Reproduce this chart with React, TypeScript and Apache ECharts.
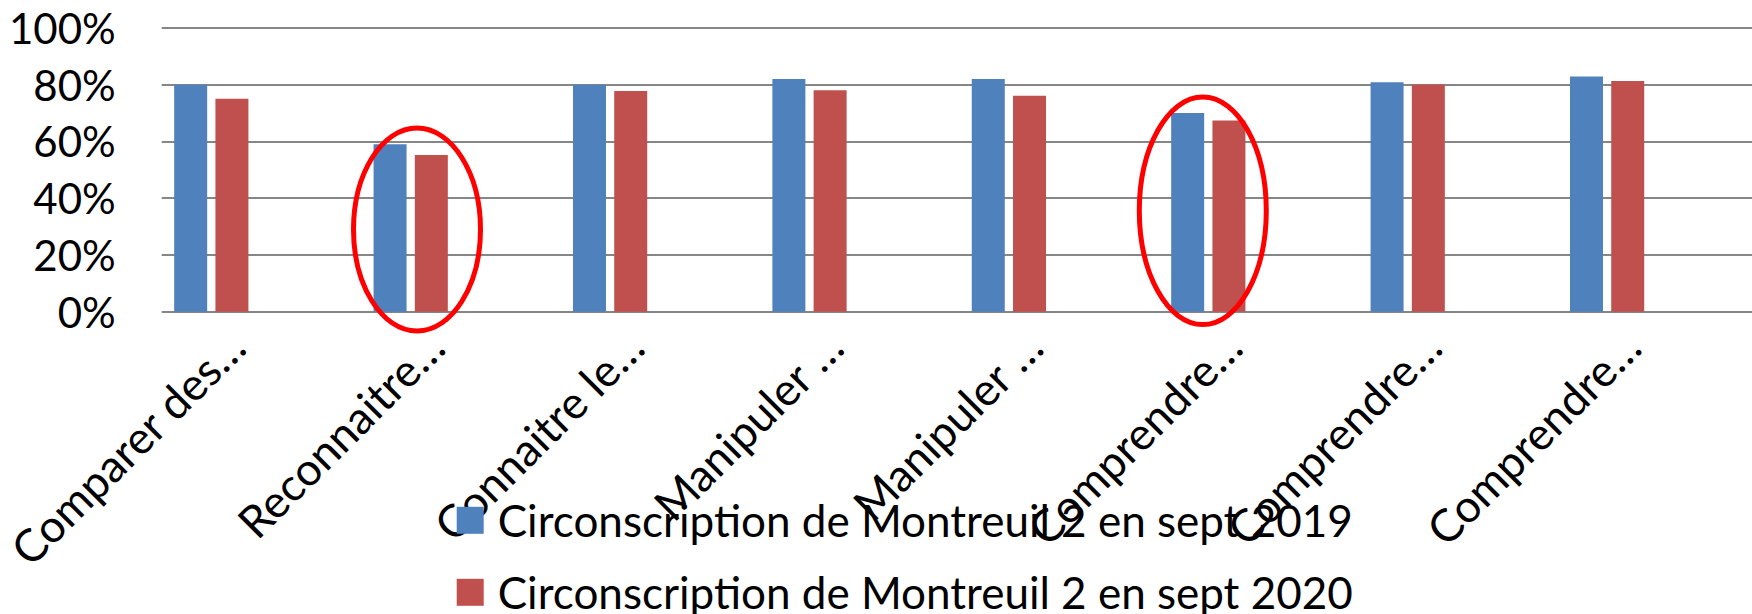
import React, { useEffect, useRef } from "react";
import * as echarts from "echarts";

const categories = [
  "Comparer des…",
  "Reconnaitre…",
  "Connaitre le…",
  "Manipuler …",
  "Manipuler …",
  "Comprendre…",
  "Comprendre…",
  "Comprendre…",
];
const seriesNames = [
  "Circonscription de Montreuil 2 en sept 2019",
  "Circonscription de Montreuil 2 en sept 2020",
];
const values2019 = [0.8, 0.59, 0.8, 0.82, 0.82, 0.7, 0.809, 0.829];
const values2020 = [0.751, 0.552, 0.778, 0.781, 0.761, 0.674, 0.801, 0.813];
const yMin = 0;
const yMax = 1;
const yStep = 0.2;

const FONT = "Lato";

export default function App() {
  const ref = useRef<HTMLDivElement>(null);
  useEffect(() => {
    if (!ref.current) return;
    const chart = echarts.init(ref.current, undefined, { renderer: "svg" });
    const top = 28;
    const height = 283.7;
    const band = 199.4;
    const hiddenValueAxis = (gi: number) => ({
      type: "value",
      gridIndex: gi,
      min: yMin,
      max: yMax,
      interval: yStep,
      show: false,
      splitLine: { show: false },
    });
    const hiddenCatAxis = (gi: number) => ({
      type: "category",
      gridIndex: gi,
      data: categories,
      axisLine: { show: false },
      axisTick: { show: false },
      axisLabel: { show: false },
      splitLine: { show: false },
    });
    const legendItem = (name: string, topPos: number) => ({
      data: [name],
      orient: "vertical",
      left: 456.7,
      top: topPos,
      padding: 0,
      itemWidth: 27,
      itemHeight: 27,
      icon: "rect",
      textStyle: {
        fontSize: 44,
        lineHeight: 40,
        fontFamily: FONT,
        color: "#000",
        padding: [0, 0, 0, 9],
      },
    });
    chart.setOption({
      animation: false,
      textStyle: { fontFamily: FONT },
      grid: [
        { left: 161.7, top, width: 1600, height },
        { left: 111.6, top, width: band * 8, height },
        { left: 136.7, top, width: band * 8, height },
      ],
      xAxis: [
        hiddenCatAxis(0),
        hiddenCatAxis(1),
        {
          type: "category",
          gridIndex: 2,
          data: categories,
          axisLine: { show: false },
          axisTick: { show: false },
          splitLine: { show: false },
          axisLabel: {
            interval: 0,
            rotate: 45,
            margin: 27,
            fontSize: 45,
            fontFamily: FONT,
            color: "#000",
          },
        },
      ],
      yAxis: [
        {
          type: "value",
          gridIndex: 0,
          min: yMin,
          max: yMax,
          interval: yStep,
          axisLine: { show: false },
          axisTick: { show: false },
          axisLabel: {
            formatter: (v: number) => Math.round(v * 100) + "%",
            fontSize: 42,
            fontFamily: FONT,
            color: "#000",
            margin: 46,
          },
          splitLine: { lineStyle: { color: "#868686", width: 2 } },
        },
        hiddenValueAxis(1),
        hiddenValueAxis(2),
      ],
      legend: [legendItem(seriesNames[0], 498.3), legendItem(seriesNames[1], 570.3)],
      series: [
        {
          type: "bar",
          name: seriesNames[0],
          xAxisIndex: 1,
          yAxisIndex: 1,
          data: values2019,
          barWidth: 33,
          barGap: "25%",
          itemStyle: { color: "#4F81BD" },
        },
        {
          type: "bar",
          name: seriesNames[1],
          xAxisIndex: 1,
          yAxisIndex: 1,
          data: values2020,
          barWidth: 33,
          barGap: "25%",
          itemStyle: { color: "#C0504D" },
        },
      ],
      graphic: [
        {
          type: "ellipse",
          z: 100,
          shape: { cx: 417, cy: 229.5, rx: 63.5, ry: 101.5 },
          style: { fill: "none", stroke: "#FF0000", lineWidth: 5 },
        },
        {
          type: "ellipse",
          z: 100,
          shape: { cx: 1202.8, cy: 210.8, rx: 63.5, ry: 113.8 },
          style: { fill: "none", stroke: "#FF0000", lineWidth: 5 },
        },
      ],
    });
    return () => chart.dispose();
  }, []);
  return (
    <div
      ref={ref}
      style={{ position: "fixed", left: 0, top: 0, width: 1752, height: 614, background: "#fff" }}
    />
  );
}
